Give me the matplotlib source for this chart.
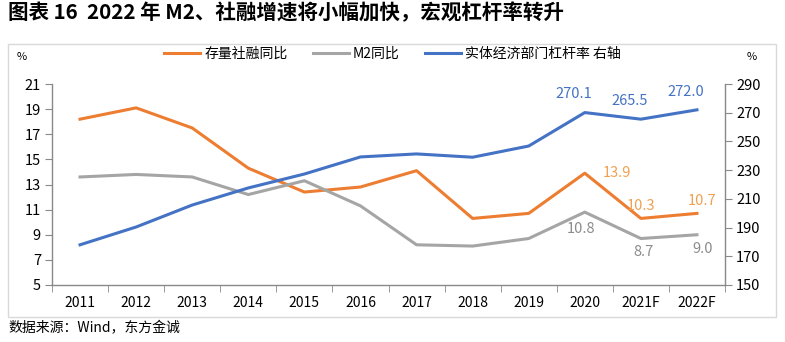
import matplotlib.pyplot as plt
from matplotlib.patches import Rectangle

plt.rcParams['font.family'] = ['Noto Sans CJK SC', 'DejaVu Sans']

# data
years = ['2011', '2012', '2013', '2014', '2015', '2016', '2017', '2018', '2019', '2020', '2021F', '2022F']
tsf = [18.2, 19.1, 17.5, 14.3, 12.4, 12.8, 14.1, 10.3, 10.7, 13.9, 10.3, 10.7]
m2 = [13.6, 13.8, 13.6, 12.2, 13.3, 11.3, 8.2, 8.1, 8.7, 10.8, 8.7, 9.0]
leverage = [178.0, 190.4, 205.7, 217.6, 227.3, 239.2, 241.3, 239.0, 246.8, 270.1, 265.5, 272.0]

c_orange = '#ED7D31'
c_gray = '#A5A5A5'
c_blue = '#4472C4'
c_spine = '#898989'

fig = plt.figure(figsize=(7.85, 3.42), dpi=100)
ax = fig.add_axes([52/785, 1-285/342, (725-52)/785, (285-84)/342])
ax2 = ax.twinx()

x = list(range(len(years)))
l1, = ax.plot(x, tsf, color=c_orange, lw=2.2, label='存量社融同比')
l2, = ax.plot(x, m2, color=c_gray, lw=2.2, label='M2同比')
l3, = ax2.plot(x, leverage, color=c_blue, lw=2.2, label='实体经济部门杠杆率 右轴')

ax.set_ylim(5, 21)
ax.set_yticks(range(5, 22, 2))
ax2.set_ylim(150, 290)
ax2.set_yticks(range(150, 291, 20))
ax.set_xlim(-0.5, len(years) - 0.5)
ax.set_xticks(x)
ax.set_xticklabels(years)
ax.set_xticks([i - 0.5 for i in range(len(years) + 1)], minor=True)
ax.tick_params(axis='x', which='major', length=0, pad=8, labelsize=10)
ax.tick_params(axis='x', which='minor', length=5, color=c_spine)
ax.tick_params(axis='y', length=5, color=c_spine, labelsize=10.5, pad=3)
ax2.tick_params(axis='y', length=5, color=c_spine, labelsize=10.5, pad=3)

for a in (ax, ax2):
    a.spines['top'].set_visible(False)
    for s in ('left', 'right', 'bottom'):
        a.spines[s].set_color(c_spine)
        a.spines[s].set_linewidth(1)
ax.spines['right'].set_visible(False)
ax2.spines['left'].set_visible(False)
ax2.spines['bottom'].set_visible(False)

# data labels
for i, v in [(9, 270.1), (10, 265.5), (11, 272.0)]:
    ax2.annotate(f'{v:.1f}', (i, v), xytext=(-8, 8), textcoords='offset points',
                 ha='center', va='bottom', color=c_blue, fontsize=10.5)
ax.annotate('13.9', (9, 13.9), xytext=(13, 0), textcoords='offset points',
            ha='left', va='center', color='#F0A050', fontsize=10.5)
ax.annotate('10.3', (10, 10.3), xytext=(0, 4), textcoords='offset points',
            ha='center', va='bottom', color='#F0A050', fontsize=10.5)
ax.annotate('10.7', (11, 10.7), xytext=(4, 4), textcoords='offset points',
            ha='center', va='bottom', color='#F0A050', fontsize=10.5)
ax.annotate('10.8', (9, 10.8), xytext=(-3, -7), textcoords='offset points',
            ha='center', va='top', color='#8C8C8C', fontsize=10.5)
ax.annotate('8.7', (10, 8.7), xytext=(2, -5), textcoords='offset points',
            ha='center', va='top', color='#8C8C8C', fontsize=10.5)
ax.annotate('9.0', (11, 9.0), xytext=(4, -5), textcoords='offset points',
            ha='center', va='top', color='#8C8C8C', fontsize=10.5)

fig.legend(handles=[l1, l2, l3], loc='center', bbox_to_anchor=(0.5, 1-54/342),
           ncol=3, frameon=False, fontsize=10, handlelength=2.6, columnspacing=1.8,
           handletextpad=0.3)

fig.text(22/785, 1-57/342, '%', fontsize=8, ha='center', va='center')
fig.text(752/785, 1-57/342, '%', fontsize=8, ha='center', va='center')

fig.text(8/785, 1-13/342, '图表 16  2022 年 M2、社融增速将小幅加快，宏观杠杆率转升',
         fontsize=14.8, fontweight='bold', ha='left', va='center')
fig.text(8/785, 1-328/342, '数据来源：Wind，东方金诚', fontsize=10, ha='left', va='center')

fig.patches.append(Rectangle((8/785, 1-317/342), (776-8)/785, (317-44)/342,
                             transform=fig.transFigure, fill=False,
                             edgecolor='#D9D9D9', lw=1))

fig.savefig('out.png', dpi=100)
